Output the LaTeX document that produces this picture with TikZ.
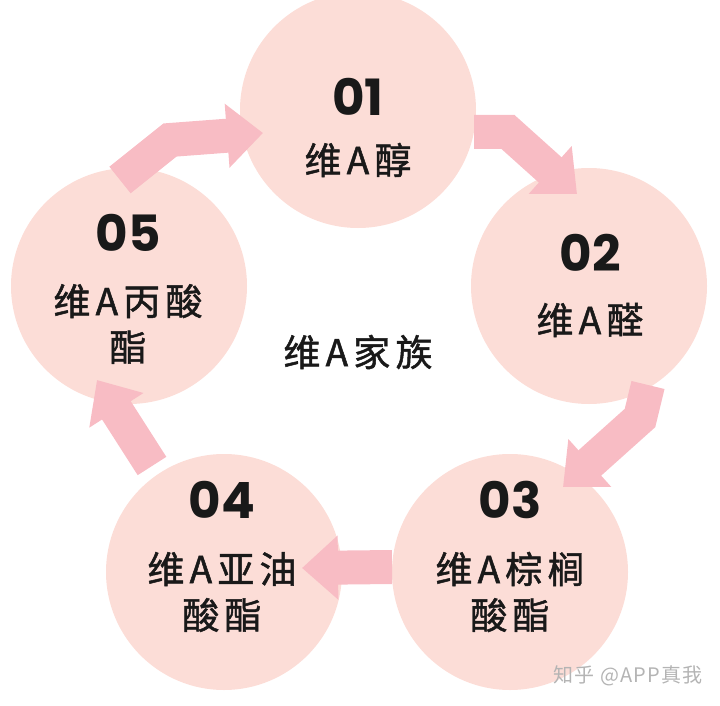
\documentclass[tikz,border=0pt]{standalone}
\usepackage{fontspec}
\usepackage{tikz}
\usetikzlibrary{arrows.meta, calc}
\newfontfamily\cjk[LetterSpace=14, FakeBold=1.3]{Noto Sans CJK SC}
\newfontfamily\markfont[LetterSpace=6]{Noto Sans CJK SC}
\newfontfamily\numfont{Poppins}
\definecolor{vapink}{HTML}{FCDDD7}
\definecolor{vaarrow}{HTML}{F8BCC4}
\definecolor{vagray}{HTML}{B4B4B4}

\begin{document}
\begin{tikzpicture}[
    x=1pt, y=-1pt,
    stage/.style={circle, fill=vapink, draw=none, minimum size=236pt, inner sep=0pt},
    num/.style={font=\numfont\bfseries\fontsize{50}{50}\selectfont, text=black!90},
    vname/.style={font=\cjk\fontsize{37}{46}\selectfont, text=black!90, align=center},
    flow/.style={draw=vaarrow, line width=34pt, line join=miter,
                 -{Triangle[width=62pt, length=36pt]}},
]
\useasboundingbox (0,0) rectangle (720,706);

\node[stage] (c1) at (358,110) {};
\node[stage] (c2) at (589,286) {};
\node[stage] (c3) at (510,572) {};
\node[stage] (c4) at (224,572) {};
\node[stage] (c5) at (129,286) {};

\draw[flow] ($(c5)+(-9,-106)$) -- ($(c5)+(41,-146)$) -- ($(c1)+(-95,23)$);
\draw[flow] ($(c1)+(116,22)$) -- ($(c2)+(-81,-154)$) -- ($(c2)+(-12,-92)$);
\draw[flow] ($(c2)+(59,99)$) -- ($(c2)+(51,132)$) -- ($(c3)+(53,-85)$);
\draw[flow] ($(c3)+(-118,-5)$) -- ($(c4)+(78,-4)$);
\draw[flow] ($(c4)+(-72,-106)$) -- ($(c5)+(-32,94)$);

\node[num]   (n1) at ($(c1)+(0,-13)$) {01};
\node[vname] (t1) at ($(c1)+(0,50)$)  {维A醇};
\node[num]   (n2) at ($(c2)+(1,-33)$) {02};
\node[vname] (t2) at ($(c2)+(1,34)$)  {维A醛};
\node[num]   (n3) at ($(c3)+(0,-72)$) {03};
\node[vname] (t3) at ($(c3)+(0,20)$)  {维A棕榈\\酸酯};
\node[num]   (n4) at ($(c4)+(-2,-72)$) {04};
\node[vname] (t4) at ($(c4)+(-2,20)$)  {维A亚油\\酸酯};
\node[num]   (n5) at ($(c5)+(-1,-53)$) {05};
\node[vname] (t5) at ($(c5)+(-1,38)$)  {维A丙酸\\酯};

\node[vname] (family) at (358,352) {维A家族};
\node[font=\markfont\fontsize{20}{20}\selectfont, text=vagray] (mark) at (628,676) {知乎 @APP真我};
\end{tikzpicture}
\end{document}
